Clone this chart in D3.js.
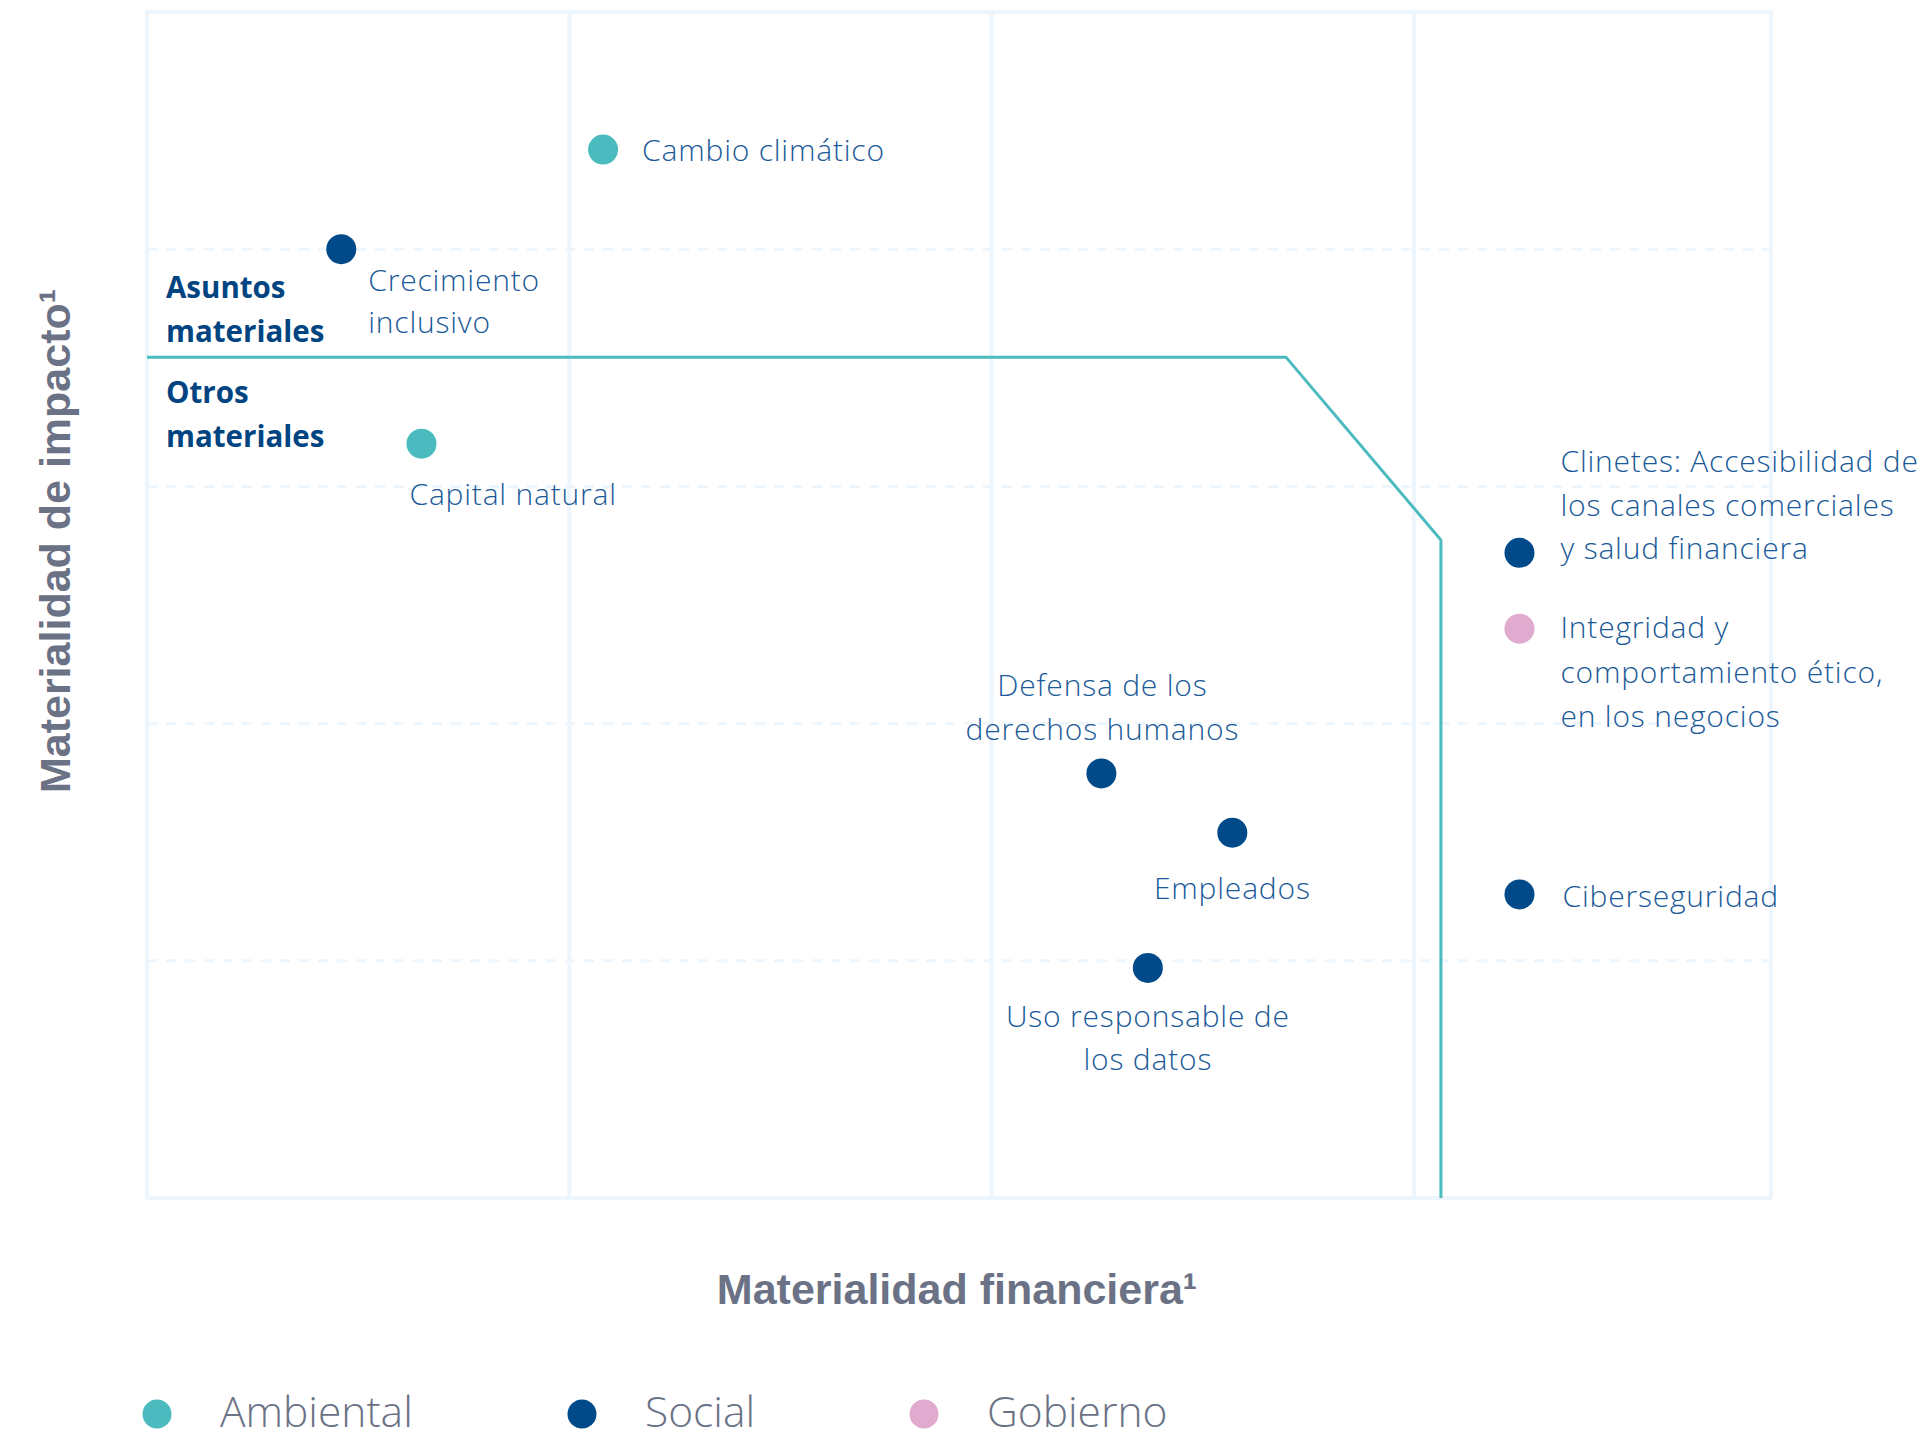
<!DOCTYPE html>
<html>
<head>
<meta charset="utf-8">
<script src="https://cdn.jsdelivr.net/npm/d3@7"></script>
<style>
  html, body { margin: 0; padding: 0; background: #ffffff; }
  svg { display: block; }
</style>
</head>
<body>
<svg id="chart" width="1927" height="1440"></svg>
<script>
// ---------- DATA ----------
const categories = ["Ambiental", "Social", "Gobierno"];
const topics = [
  "Cambio climático",
  "Crecimiento\ninclusivo",
  "Capital natural",
  "Clinetes: Accesibilidad de\nlos canales comerciales\ny salud financiera",
  "Integridad y\ncomportamiento ético,\nen los negocios",
  "Ciberseguridad",
  "Defensa de los\nderechos humanos",
  "Empleados",
  "Uso responsable de\nlos datos"
];
const topicCategory = ["Ambiental", "Social", "Ambiental", "Social", "Gobierno", "Social", "Social", "Social", "Social"];
const financialMateriality = [1.08, 0.46, 0.65, 3.25, 3.25, 3.25, 2.26, 2.57, 2.37];
const impactMateriality    = [4.42, 4.00, 3.18, 2.72, 2.40, 1.28, 1.79, 1.54, 0.97];
const thresholdX = [0, 2.697, 3.064, 3.064];
const thresholdY = [3.545, 3.545, 2.774, 0];
const xGridTicks = [1, 2, 3];
const yGridTicks = [1, 2, 3, 4];
const zoneLabels = ["Asuntos\nmateriales", "Otros\nmateriales"];
const xTitle = "Materialidad financiera¹";
const yTitle = "Materialidad de impacto¹";

// ---------- LAYOUT / STYLE ----------
const colors = { "Ambiental": "#4bbbbf", "Social": "#004a8a", "Gobierno": "#e1abcf" };
const labelOffsets = [
  { anchor: "start",  dx: 39,  dy: [11] },
  { anchor: "start",  dx: 27,  dy: [42, 84] },
  { anchor: "start",  dx: -12, dy: [61] },
  { anchor: "start",  dx: 41,  dy: [-81, -37, 6] },
  { anchor: "start",  dx: 41,  dy: [9, 54, 98] },
  { anchor: "start",  dx: 43,  dy: [13] },
  { anchor: "middle", dx: 1,   dy: [-77, -33] },
  { anchor: "middle", dx: 0,   dy: [66] },
  { anchor: "middle", dx: 0,   dy: [59, 102] }
];
const plot = { left: 147, right: 1771, top: 12, bottom: 1198 };
const xDomainMax = (plot.right - plot.left) / 422.3;

const svg = d3.select("#chart");
const x = d3.scaleLinear().domain([0, xDomainMax]).range([plot.left, plot.right]);
const y = d3.scaleLinear().domain([0, 5]).range([plot.bottom, plot.top]);

const gridColor = "#edf5fd";

// horizontal dashed grid
svg.append("g").selectAll("line").data(yGridTicks).join("line")
  .attr("x1", plot.left).attr("x2", plot.right)
  .attr("y1", d => y(d)).attr("y2", d => y(d))
  .attr("stroke", gridColor).attr("stroke-width", 3)
  .attr("stroke-dasharray", "10 9");

// vertical solid grid
svg.append("g").selectAll("line").data(xGridTicks).join("line")
  .attr("x1", d => x(d)).attr("x2", d => x(d))
  .attr("y1", plot.top).attr("y2", plot.bottom)
  .attr("stroke", gridColor).attr("stroke-width", 4);

// frame
svg.append("rect")
  .attr("x", plot.left).attr("y", plot.top)
  .attr("width", plot.right - plot.left).attr("height", plot.bottom - plot.top)
  .attr("fill", "none").attr("stroke", gridColor).attr("stroke-width", 4);

// threshold line
const thr = thresholdX.map((v, i) => [v, thresholdY[i]]);
svg.append("path")
  .attr("d", d3.line().x(d => x(d[0])).y(d => y(d[1]))(thr))
  .attr("fill", "none").attr("stroke", "#4bbbbf").attr("stroke-width", 3);

// zone labels
zoneLabels.forEach((lbl, i) => {
  const t = svg.append("text")
    .attr("font-family", "'Open Sans', sans-serif")
    .attr("font-weight", 700)
    .attr("font-size", 29.5)
    .attr("fill", "#004481");
  lbl.split("\n").forEach((line, j) => {
    t.append("tspan").attr("x", 166)
      .attr("y", (i === 0 ? 298 : 403) + j * 44)
      .text(line);
  });
});

// points
const pts = topics.map((t, i) => ({
  name: t, cat: topicCategory[i], fx: financialMateriality[i], iy: impactMateriality[i], off: labelOffsets[i]
}));

svg.append("g").selectAll("circle").data(pts).join("circle")
  .attr("cx", d => x(d.fx)).attr("cy", d => y(d.iy))
  .attr("r", 15)
  .attr("fill", d => colors[d.cat]);

// labels
const lg = svg.append("g")
  .attr("font-family", "'Open Sans', sans-serif")
  .attr("font-weight", 300)
  .attr("font-size", 30)
  .attr("letter-spacing", 0.8)
  .attr("fill", "#1a5a98");
pts.forEach(d => {
  const px = x(d.fx), py = y(d.iy);
  const t = lg.append("text").attr("text-anchor", d.off.anchor);
  d.name.split("\n").forEach((line, j) => {
    t.append("tspan").attr("x", px + d.off.dx).attr("y", py + d.off.dy[j]).text(line);
  });
});

// axis titles
svg.append("text")
  .attr("transform", "translate(70,541) rotate(-90)")
  .attr("text-anchor", "middle")
  .attr("font-family", "'Liberation Sans', Arial, sans-serif")
  .attr("font-weight", 700)
  .attr("font-size", 43)
  .attr("fill", "#6b7285")
  .text(yTitle);

svg.append("text")
  .attr("x", 957).attr("y", 1304)
  .attr("text-anchor", "middle")
  .attr("font-family", "'Liberation Sans', Arial, sans-serif")
  .attr("font-weight", 700)
  .attr("font-size", 43)
  .attr("fill", "#6b7285")
  .text(xTitle);

// legend
const legendX = [157, 582, 924];
const legend = svg.append("g").selectAll("g").data(categories).join("g")
  .attr("transform", (d, i) => `translate(${legendX[i]},1414)`);
legend.append("circle").attr("r", 14.5).attr("fill", d => colors[d]);
legend.append("text")
  .attr("x", 63).attr("y", 13)
  .attr("font-family", "'Open Sans', sans-serif")
  .attr("font-weight", 300)
  .attr("font-size", 42.5)
  .attr("fill", "#6b7285")
  .text(d => d);
</script>
</body>
</html>
